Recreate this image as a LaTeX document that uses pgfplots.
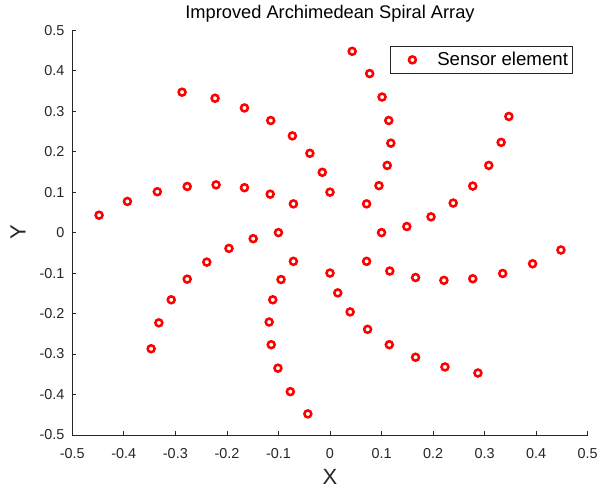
\documentclass[border=0pt]{standalone}
\usepackage{fontspec}
\setmainfont{Liberation Sans}
\usepackage{pgfplots}
\pgfplotsset{compat=1.18}
\definecolor{axgray}{rgb}{0.15,0.15,0.15}
\begin{document}
\begin{tikzpicture}
\useasboundingbox (-54.2pt,-40.5pt) rectangle (394.3pt,326.2pt);
\begin{axis}[
  scale only axis, width=386.6pt, height=303.5pt,
  xmin=-0.5, xmax=0.5, ymin=-0.5, ymax=0.5,
  axis x line=bottom, axis y line=left,
  axis line style={-, draw=axgray, line width=0.6pt},
  tick align=inside, major tick length=3pt,
  tick style={axgray, line width=0.6pt},
  xtick={-0.5,-0.4,-0.3,-0.2,-0.1,0,0.1,0.2,0.3,0.4,0.5},
  ytick={-0.5,-0.4,-0.3,-0.2,-0.1,0,0.1,0.2,0.3,0.4,0.5},
  xticklabels={-0.5,-0.4,-0.3,-0.2,-0.1,0,0.1,0.2,0.3,0.4,0.5},
  yticklabels={-0.5,-0.4,-0.3,-0.2,-0.1,0,0.1,0.2,0.3,0.4,0.5},
  ticklabel style={font=\fontsize{10.8}{12}\selectfont, text=axgray},
  xticklabel style={yshift=-6.5pt},
  yticklabel style={xshift=-2.4pt},
  xlabel={X}, ylabel={Y},
  xlabel style={at={(axis description cs:0.5,-0.1038)}, anchor=center, font=\fontsize{16.5}{18}\selectfont, text=axgray},
  ylabel style={at={(axis description cs:-0.1053,0.5)}, anchor=center, font=\fontsize{16.5}{18}\selectfont, text=axgray},
  title={Improved Archimedean Spiral Array},
  every axis title/.style={at={(axis description cs:0.5,1.0402)}, anchor=center, font=\fontsize{13.7}{15}\selectfont, text=black},
  legend style={at={(axis description cs:0.9709,0.962)}, anchor=north east, draw=axgray, line width=0.5pt, inner xsep=1.3pt, inner ysep=2.6pt, font=\fontsize{14}{16}\selectfont, text=black},
  legend cell align=left,
  legend image code/.code={\path (0pt,0pt) (30pt,0pt); \draw[mark repeat=2,mark phase=2,#1] plot coordinates {(0pt,0pt) (14.3pt,0pt) (30pt,0pt)};},
]
\addplot[only marks, mark=o, mark size=2.6pt, red, line width=1.9pt] coordinates {
  (0.100,0.000) (0.149,0.015) (0.196,0.039) (0.239,0.073) (0.277,0.115) (0.308,0.166) (0.332,0.223) (0.347,0.287)
  (0.071,0.071) (0.095,0.116) (0.111,0.166) (0.118,0.221) (0.114,0.277) (0.101,0.335) (0.077,0.393) (0.043,0.448)
  (0.000,0.100) (-0.015,0.149) (-0.039,0.196) (-0.073,0.239) (-0.115,0.277) (-0.166,0.308) (-0.223,0.332) (-0.287,0.347)
  (-0.071,0.071) (-0.116,0.095) (-0.166,0.111) (-0.221,0.118) (-0.277,0.114) (-0.335,0.101) (-0.393,0.077) (-0.448,0.043)
  (-0.100,0.000) (-0.149,-0.015) (-0.196,-0.039) (-0.239,-0.073) (-0.277,-0.115) (-0.308,-0.166) (-0.332,-0.223) (-0.347,-0.287)
  (-0.071,-0.071) (-0.095,-0.116) (-0.111,-0.166) (-0.118,-0.221) (-0.114,-0.277) (-0.101,-0.335) (-0.077,-0.393) (-0.043,-0.448)
  (0.000,-0.100) (0.015,-0.149) (0.039,-0.196) (0.073,-0.239) (0.115,-0.277) (0.166,-0.308) (0.223,-0.332) (0.287,-0.347)
  (0.071,-0.071) (0.116,-0.095) (0.166,-0.111) (0.221,-0.118) (0.277,-0.114) (0.335,-0.101) (0.393,-0.077) (0.448,-0.043)
};
\addlegendentry{Sensor element}
\end{axis}
\end{tikzpicture}
\end{document}
